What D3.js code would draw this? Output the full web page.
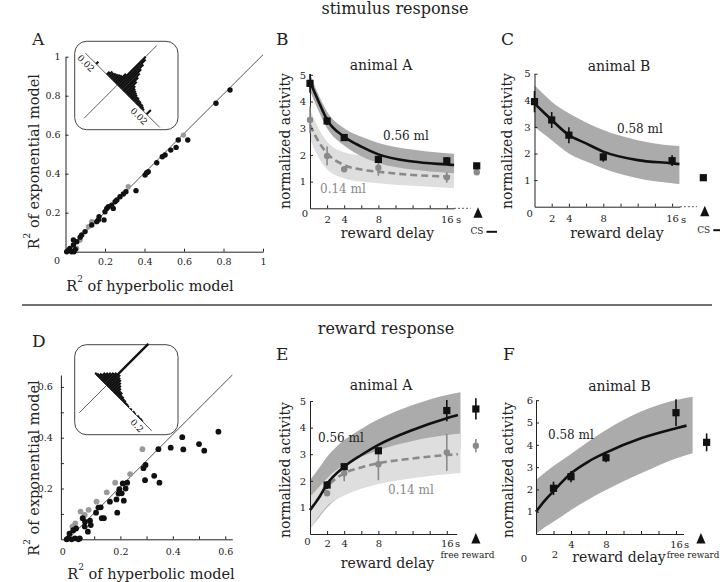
<!DOCTYPE html>
<html><head><meta charset="utf-8">
<script src="https://cdn.jsdelivr.net/npm/d3@7/dist/d3.min.js"></script>
<style>
html,body{margin:0;padding:0;background:#fff;}
svg{display:block;font-family:"DejaVu Serif",serif;}
</style></head>
<body>
<svg id="fig" width="720" height="582"></svg>
<script>
// ===================== DATA =====================
const sectionTitles = ["stimulus response", "reward response"];
const panelLetters = ["A","B","C","D","E","F"];

// ---- Panel A: R^2 hyperbolic (x) vs exponential (y), stimulus responses
const scatterA_black = [[.833,.829],[.762,.761],[.619,.573],[.571,.573],[.56,.535],[.533,.521],[.504,.496],[.49,.487],[.462,.456],[.411,.405],[.403,.393],[.419,.41],[.357,.313],[.306,.308],[.293,.296],[.276,.282],[.26,.265],[.251,.256],[.234,.239],[.217,.231],[.209,.222],[.242,.222],[.2,.205],[.195,.163],[.166,.163],[.158,.154],[.17,.18],[.133,.137],[.099,.103],[.082,.086],[.074,.074],[.057,.051],[.04,.034],[.022,.017],[.006,0],[.031,0],[.043,0],[.04,.06],[.015,.008],[.05,.012]];
const scatterA_gray = [[.597,.598],[.318,.333],[.133,.154],[.116,.128],[.056,.017],[.074,.06]];
const ticksA = [0.2,0.4,0.6,0.8,1];
// inset histogram A (difference along anti-diagonal)
const histA_bins = [-0.016,-0.008,-0.007,-0.006,-0.005,-0.004,-0.003,-0.002,-0.001,0,0.001,0.002,0.003,0.004,0.005,0.006,0.007,0.008,0.009,0.010,0.011,0.012,0.013,0.014,0.015,0.016,0.017,0.018,0.019,0.022];
const histA_counts = [3,4,6,6,7,8,9,10,14,40,38,33,28,24,20,16,12,10,9,8,7,6,6,5,5,4,4,3,2,6];
const histA_ticks = [-0.02, 0.02];

// ---- Panel D: reward responses
const scatterD_black = [[.574,.424],[.52,.349],[.5,.375],[.44,.354],[.436,.402],[.392,.361],[.345,.355],[.349,.223],[.329,.25],[.296,.293],[.288,.28],[.294,.233],[.226,.223],[.22,.2],[.209,.22],[.205,.181],[.196,.197],[.185,.157],[.213,.152],[.193,.18],[.188,.105],[.16,.148],[.125,.126],[.116,.125],[.137,.083],[.129,.083],[.107,.105],[.084,.073],[.087,.056],[.065,.069],[.056,.083],[.031,.043],[.02,.036],[.006,.022],[.001,.004],[.014,0],[.027,.004],[.04,0],[.045,.004],[-.005,0],[.076,.03],[.064,.05]];
const scatterD_gray = [[.284,.355],[.237,.257],[.18,.223],[.148,.185],[.109,.148],[.048,.109],[.079,.116],[.064,.096],[.058,.083],[.017,.05],[.006,.022],[.028,.063]];
const ticksD = [0.1,0.2,0.3,0.4,0.5,0.6];
const ticksD_labeled = [0.2,0.4,0.6];
const histD_bins = [-0.064,-0.056,-0.048,-0.04,-0.032,-0.024,-0.016,-0.008,0,0.008,0.016,0.024,0.032,0.04,0.048,0.056,0.064,0.072,0.08,0.088,0.096,0.104,0.112,0.12,0.136,0.152,0.16,0.176,0.184,0.192,0.2];
const histD_counts = [2,3,5,8,10,12,14,16,59,17,15,14,12,10,8,6,6,4,4,3,3,2,2,1.5,1.5,1.5,1,1.5,1,1.5,1];
const histD_ticks = [0.2];

// ---- Delay panels
const delayTicks = [2,4,6,8,10,12,14,16];
const delayTickLabels = [2,4,8,16];
const delaysBC = [0,2,4,8,16];
const delaysEF = [2,4,8,16];
const gridBC = [0,1,2,4,6,8,12,16,16.85];
const gridEF = [0,1,2,4,6,8,12,16,17.6];

// B: stimulus response, animal A
const B_large = [4.68,3.27,2.65,1.83,1.78];
const B_large_err = [0.35,0.15,0.12,0.05,0.12];
const B_small = [3.31,1.96,1.46,1.52,1.16];
const B_small_err = [0.5,0.35,0.1,0.3,0.2];
const B_cs = [1.59,1.35];
const B_cs_err = [0,0.1];
const B_fitLarge = [4.74,4.0,3.31,2.68,2.31,2.02,1.75,1.64,1.62];
const B_bandLargeHi = [5.05,4.25,3.62,3.0,2.68,2.45,2.2,2.06,2.04];
const B_bandLargeLo = [4.4,3.65,3.0,2.35,1.95,1.7,1.45,1.33,1.31];
const B_fitSmall = [3.12,2.5,2.06,1.62,1.45,1.37,1.25,1.19,1.18];
const B_bandSmallHi = [3.7,3.0,2.5,2.1,1.98,1.92,1.86,1.82,1.81];
const B_bandSmallLo = [2.6,1.9,1.45,1.12,1.0,0.94,0.84,0.77,0.75];

// C: stimulus response, animal B
const C_large = [3.95,3.26,2.69,1.87,1.73];
const C_large_err = [0.4,0.3,0.3,0.18,0.2];
const C_cs = [1.09];
const C_cs_err = [0];
const C_fit = [3.88,3.57,3.26,2.69,2.38,2.07,1.75,1.63,1.6];
const C_bandHi = [4.57,4.25,3.95,3.51,3.17,2.88,2.5,2.3,2.28];
const C_bandLo = [3.0,2.75,2.5,2.0,1.7,1.44,1.07,0.88,0.85];

// E: reward response, animal A
const E_large = [1.84,2.53,3.13,4.64];
const E_large_err = [0.15,0.12,0.1,0.4];
const E_small = [1.53,2.28,2.62,3.07];
const E_small_err = [0.1,0.3,0.6,0.7];
const E_free = [4.7,3.32];
const E_free_err = [0.4,0.25];
const E_fitLarge = [0.9,1.34,1.88,2.53,2.97,3.35,3.91,4.35,4.47];
const E_bandLargeHi = [2.03,2.45,2.9,3.53,3.95,4.31,4.85,5.23,5.33];
const E_bandLargeLo = [0.2,0.6,1.0,1.5,1.9,2.2,2.7,3.1,3.2];
const E_fitSmall = [0.9,1.35,1.78,2.28,2.5,2.66,2.84,2.97,3.0];
const E_bandSmallHi = [1.4,1.75,2.1,2.6,2.9,3.15,3.5,3.72,3.78];
const E_bandSmallLo = [0.2,0.65,1.05,1.45,1.7,1.88,2.1,2.25,2.28];

// F: reward response, animal B
const F_large = [2.05,2.57,3.42,5.44];
const F_large_err = [0.3,0.25,0.2,0.6];
const F_free = [4.11];
const F_free_err = [0.4];
const F_fit = [1.0,1.5,1.92,2.72,3.25,3.65,4.29,4.74,4.86];
const F_bandHi = [2.42,2.75,3.05,3.59,4.15,4.66,5.49,6.01,6.16];
const F_bandLo = [0.0,0.3,0.55,1.08,1.55,1.97,2.72,3.39,3.62];

// ===================== DRAWING =====================
const svg = d3.select("#fig");
const BLACK = "#111", GRAY = "#8a8a8a", DARKBAND = "#ababab", LIGHTBAND = "#dedede";

// section titles / separator
svg.append("text").attr("x",395).attr("y",14).attr("text-anchor","middle").attr("font-size",16).attr("fill","#222").text(sectionTitles[0]);
svg.append("text").attr("x",386).attr("y",334).attr("text-anchor","middle").attr("font-size",16).attr("fill","#222").text(sectionTitles[1]);
svg.append("line").attr("x1",22).attr("x2",712).attr("y1",305).attr("y2",305).attr("stroke","#444").attr("stroke-width",1.5);

// panel letters
const letterPos = [[32,45],[276,45],[501,45],[32,347],[276,360],[503,360]];
panelLetters.forEach((l,i)=>svg.append("text").attr("x",letterPos[i][0]).attr("y",letterPos[i][1]).attr("font-size",17).attr("fill","#222").text(l));

function styleAxis(sel, fs){
  sel.attr("font-family",'"DejaVu Serif",serif').attr("font-size",fs);
  sel.select(".domain").attr("stroke","#222").attr("stroke-width",1);
  sel.selectAll(".tick line").attr("stroke","#222");
  sel.selectAll(".tick text").attr("fill","#222");
}

function r2Label(x, y, rot, rest, fs){
  const t = svg.append("text").attr("transform",`translate(${x},${y}) rotate(${rot})`).attr("text-anchor","middle").attr("font-size",fs).attr("fill","#222");
  t.append("tspan").text("R");
  t.append("tspan").attr("dy",-9).attr("font-size",9).text("2");
  t.append("tspan").attr("dy",9).text(" " + rest);
}

// ---------- scatter panels ----------
function scatterPanel(p){
  const g = svg.append("g");
  const x = d3.scaleLinear().domain(p.xDom).range(p.xRange);
  const y = d3.scaleLinear().domain(p.yDom).range(p.yRange);
  g.append("line").attr("x1",x(0)).attr("y1",y(0)).attr("x2",x(p.diagEnd[0])).attr("y2",y(p.diagEnd[1]))
    .attr("stroke","#555").attr("stroke-width",1);
  const fmt = d=>d===1?"1":d3.format(".1f")(d);
  const xa = g.append("g").attr("transform",`translate(0,${p.yRange[0]})`)
    .call(d3.axisBottom(x).tickValues(p.ticksX).tickSize(-3).tickSizeOuter(0).tickPadding(p.padX)
      .tickFormat(d=>p.labX.includes(d)? fmt(d) : ""));
  styleAxis(xa, p.fs);
  const ya = g.append("g").attr("transform",`translate(${p.xRange[0]},0)`)
    .call(d3.axisLeft(y).tickValues(p.ticksY).tickSize(-3).tickSizeOuter(0).tickPadding(p.padY)
      .tickFormat(d=>p.labY.includes(d)? fmt(d) : ""));
  styleAxis(ya, p.fs);
  g.append("text").attr("x",p.zero[0]).attr("y",p.zero[1]).attr("text-anchor","middle").attr("font-size",p.fs).attr("fill","#222").text("0");
  g.selectAll(null).data(p.gray).enter().append("circle")
    .attr("cx",d=>x(d[0])).attr("cy",d=>y(d[1])).attr("r",p.r).attr("fill","#9a9a9a");
  g.selectAll(null).data(p.black).enter().append("circle")
    .attr("cx",d=>x(d[0])).attr("cy",d=>y(d[1])).attr("r",p.r).attr("fill",BLACK);
  // inset
  const ins = p.inset;
  svg.append("rect").attr("x",ins.box[0]).attr("y",ins.box[1]).attr("width",ins.box[2]).attr("height",ins.box[3])
    .attr("rx",12).attr("fill","#fff").attr("stroke","#444").attr("stroke-width",1);
  const h = svg.append("g").attr("transform",`translate(${ins.cx},${ins.cy}) rotate(45)`);
  const u = d3.scaleLinear().domain([0,1]).range([0,ins.pxPerUnit]);
  h.append("line").attr("x1",ins.anti[0]).attr("x2",ins.anti[1]).attr("y1",0).attr("y2",0).attr("stroke","#555").attr("stroke-width",0.9);
  h.append("line").attr("x1",0).attr("x2",0).attr("y1",ins.diag[0]).attr("y2",ins.diag[1]).attr("stroke","#555").attr("stroke-width",0.9);
  const bw = u(ins.binW);
  h.selectAll(null).data(ins.bins.map((b,i)=>[b,ins.counts[i]])).enter().append("rect")
    .attr("x",d=>u(d[0])-bw/2).attr("y",d=>-d[1]).attr("width",bw+0.3).attr("height",d=>d[1]).attr("fill",BLACK);
  h.selectAll(null).data(ins.ticks).enter().append("text")
    .attr("x",d=>u(d)).attr("y",10).attr("text-anchor","middle").attr("font-size",9).attr("fill","#222")
    .text(d=>ins.fmt(Math.abs(d)));
  r2Label(p.ylab[0], p.ylab[1], -90, "of exponential model", 14.5);
  r2Label(p.xlab[0], p.xlab[1], 0, "of hyperbolic model", 14.5);
}

scatterPanel({
  xDom:[0,1], xRange:[65.5,263], yDom:[0,1], yRange:[251.7,56.7], diagEnd:[1.0,1.01],
  ticksX:ticksA, labX:ticksA, ticksY:ticksA, labY:ticksA, padX:7, padY:5, fs:9.5, r:2.7,
  zero:[57,264], black:scatterA_black, gray:scatterA_gray,
  ylab:[38.5,161.7], xlab:[150,291],
  inset:{box:[74.7,41.3,103.3,88.4], cx:117.3, cy:85, pxPerUnit:1875, binW:0.001,
    anti:[-45,60], diag:[47,-56], bins:histA_bins, counts:histA_counts, ticks:histA_ticks, fmt:d3.format(".2f")}
});

scatterPanel({
  xDom:[-0.027,0.627], xRange:[60.9,232.3], yDom:[0,0.647], yRange:[539.3,375], diagEnd:[0.627,0.647],
  ticksX:ticksD, labX:ticksD_labeled, ticksY:ticksD, labY:ticksD_labeled, padX:9, padY:8, fs:9.5, r:2.9,
  zero:[62.7,555], black:scatterD_black, gray:scatterD_gray,
  ylab:[38.5,468], xlab:[151,579],
  inset:{box:[74.7,344.7,103.3,90], cx:106.5, cy:385.5, pxPerUnit:250, binW:0.008,
    anti:[-16,64], diag:[38.5,-59], bins:histD_bins, counts:histD_counts, ticks:histD_ticks, fmt:d3.format(".1f")}
});

// ---------- delay panels ----------
function delayPanel(p){
  const g = svg.append("g");
  const x = d3.scaleLinear().domain([0,p.axisEnd]).range([p.x0, p.x0 + p.pxS*p.axisEnd]);
  const y = d3.scaleLinear().domain([0,p.yMax]).range([p.y0, p.y0 - p.pxU*p.yMax]);
  const area = d3.area().x(d=>x(d[0])).y0(d=>y(d[1])).y1(d=>y(d[2])).curve(d3.curveMonotoneX);
  const line = d3.line().x(d=>x(d[0])).y(d=>y(d[1])).curve(d3.curveMonotoneX);
  p.bands.forEach(b=>g.append("path").datum(b.grid.map((t,i)=>[t,b.lo[i],b.hi[i]])).attr("d",area).attr("fill",b.color));
  p.curves.forEach(c=>g.append("path").datum(c.grid.map((t,i)=>[t,c.v[i]])).attr("d",line)
    .attr("fill","none").attr("stroke",c.color).attr("stroke-width",2.6).attr("stroke-dasharray",c.dash||null));
  // axes
  const xa = g.append("g").attr("transform",`translate(0,${p.y0})`)
    .call(d3.axisBottom(x).tickValues(p.xTicks).tickSize(-3).tickSizeOuter(0).tickPadding(p.padX)
      .tickFormat(d=>p.xLabels.includes(d)? d : ""));
  styleAxis(xa, 10);
  const yTicks = d3.range(1, p.yMax+1);
  const ya = g.append("g").attr("transform",`translate(${p.x0},0)`)
    .call(d3.axisLeft(y).tickValues(yTicks).tickSize(-3).tickSizeOuter(0).tickPadding(p.padY).tickFormat(d3.format("d")));
  styleAxis(ya, 10);
  if (p.dashEnd) g.append("line").attr("x1",x(p.axisEnd)).attr("x2",x(p.dashEnd)).attr("y1",p.y0).attr("y2",p.y0)
    .attr("stroke","#444").attr("stroke-width",0.9).attr("stroke-dasharray","2,2");
  p.extraText.forEach(t=>g.append("text").attr("x",t.x).attr("y",t.y).attr("text-anchor",t.anchor||"middle")
    .attr("font-size",t.fs||10).attr("fill",t.color||"#222").text(t.text));
  // series
  p.series.forEach(s=>{
    const pts = s.t.map((t,i)=>({t:t, v:s.v[i], e:s.e[i]}));
    g.selectAll(null).data(pts.filter(d=>d.e>0)).enter().append("line")
      .attr("x1",d=>x(d.t)).attr("x2",d=>x(d.t)).attr("y1",d=>y(d.v-d.e)).attr("y2",d=>y(d.v+d.e))
      .attr("stroke",s.color).attr("stroke-width",1.6);
    if (s.shape==="square"){
      g.selectAll(null).data(pts).enter().append("rect")
        .attr("x",d=>x(d.t)-3.6).attr("y",d=>y(d.v)-3.6).attr("width",7.2).attr("height",7.2).attr("fill",s.color);
    } else {
      g.selectAll(null).data(pts).enter().append("circle")
        .attr("cx",d=>x(d.t)).attr("cy",d=>y(d.v)).attr("r",3.2).attr("fill",s.color);
    }
  });
  // triangle marker
  const tx = x(p.triT);
  g.append("path").attr("d",`M${tx},${p.y0-1}L${tx+4.6},${p.y0+9.5}L${tx-4.6},${p.y0+9.5}Z`).attr("fill",BLACK);
  if (p.cs){
    g.append("text").attr("x",tx-1).attr("y",p.y0+26).attr("text-anchor","middle").attr("font-size",9).attr("fill","#222").text("CS");
    g.append("line").attr("x1",tx+8.5).attr("x2",tx+19).attr("y1",p.y0+23.5).attr("y2",p.y0+23.5).attr("stroke",BLACK).attr("stroke-width",2);
  }
  if (p.free){
    g.append("text").attr("x",p.free[0]).attr("y",p.free[1]).attr("text-anchor","middle").attr("font-size",p.free[2]||9).attr("fill","#222").text("free reward");
  }
  g.append("text").attr("x",p.title[0]).attr("y",p.title[1]).attr("text-anchor","middle").attr("font-size",14).attr("fill","#222").text(p.title[2]);
  g.append("text").attr("transform",`translate(${p.ylab[0]},${p.ylab[1]}) rotate(-90)`).attr("text-anchor","middle").attr("font-size",14).attr("fill","#222").text("normalized activity");
  g.append("text").attr("x",p.xlab[0]).attr("y",p.xlab[1]).attr("text-anchor","middle").attr("font-size",14).attr("fill","#222").text("reward delay");
  p.notes.forEach(n=>g.append("text").attr("x",n.x).attr("y",n.y).attr("font-size",12).attr("fill",n.color).text(n.text));
}

// B
delayPanel({
  x0:310, pxS:8.55, axisEnd:16.85, dashEnd:18.8, y0:208.3, pxU:26.7, yMax:5, padX:7.5, padY:4,
  xTicks:delayTicks, xLabels:delayTickLabels,
  bands:[{grid:gridBC, lo:B_bandSmallLo, hi:B_bandSmallHi, color:LIGHTBAND},{grid:gridBC, lo:B_bandLargeLo, hi:B_bandLargeHi, color:DARKBAND}],
  curves:[{grid:gridBC, v:B_fitSmall, color:GRAY, dash:"7,4"},{grid:gridBC, v:B_fitLarge, color:BLACK}],
  series:[{t:delaysBC, v:B_small, e:B_small_err, color:GRAY, shape:"circle"},{t:[19.5], v:[B_cs[1]], e:[B_cs_err[1]], color:GRAY, shape:"circle"},
          {t:delaysBC, v:B_large, e:B_large_err, color:BLACK, shape:"square"},{t:[19.5], v:[B_cs[0]], e:[B_cs_err[0]], color:BLACK, shape:"square"}],
  triT:19.65, cs:true,
  extraText:[{text:"0", x:305, y:217},{text:"s", x:456, y:223, anchor:"start"}],
  title:[381,70,"animal A"], ylab:[289.5,141], xlab:[387.5,238],
  notes:[{text:"0.56 ml", x:383, y:140, color:"#222"},{text:"0.14 ml", x:320, y:193, color:"#8a8a8a"}]
});

// C
delayPanel({
  x0:534.5, pxS:8.6, axisEnd:16.9, dashEnd:18.9, y0:206.7, pxU:26.6, yMax:5, padX:8.5, padY:4,
  xTicks:delayTicks, xLabels:delayTickLabels,
  bands:[{grid:gridBC, lo:C_bandLo, hi:C_bandHi, color:DARKBAND}],
  curves:[{grid:gridBC, v:C_fit, color:BLACK}],
  series:[{t:delaysBC, v:C_large, e:C_large_err, color:BLACK, shape:"square"},{t:[19.63], v:C_cs, e:C_cs_err, color:BLACK, shape:"square"}],
  triT:19.8, cs:true,
  extraText:[{text:"0", x:529.7, y:217},{text:"s", x:681, y:223, anchor:"start"}],
  title:[619,71,"animal B"], ylab:[512,141], xlab:[617,238],
  notes:[{text:"0.58 ml", x:617, y:133, color:"#222"}]
});

// E
delayPanel({
  x0:310, pxS:8.55, axisEnd:17.15, dashEnd:null, y0:534, pxU:26.6, yMax:5, padX:6, padY:4,
  xTicks:delayTicks, xLabels:delayTickLabels,
  bands:[{grid:gridEF, lo:E_bandLargeLo, hi:E_bandLargeHi, color:DARKBAND},{grid:gridEF, lo:E_bandSmallLo, hi:E_bandSmallHi, color:LIGHTBAND}],
  curves:[{grid:gridEF.slice(0,8).concat([17.3]), v:E_fitSmall, color:GRAY, dash:"7,4"},{grid:gridEF.slice(0,8).concat([17.3]), v:E_fitLarge, color:BLACK}],
  series:[{t:delaysEF, v:E_small, e:E_small_err, color:GRAY, shape:"circle"},{t:[19.4], v:[E_free[1]], e:[E_free_err[1]], color:GRAY, shape:"circle"},
          {t:delaysEF, v:E_large, e:E_large_err, color:BLACK, shape:"square"},{t:[19.4], v:[E_free[0]], e:[E_free_err[0]], color:BLACK, shape:"square"}],
  triT:19.4, cs:false, free:[467.5,558],
  extraText:[{text:"0", x:307.5, y:545},{text:"s", x:455, y:547, anchor:"start"}],
  title:[381,390,"animal A"], ylab:[289.5,470], xlab:[387.5,568],
  notes:[{text:"0.56 ml", x:318, y:441.5, color:"#222"},{text:"0.14 ml", x:388, y:494, color:"#8a8a8a"}]
});

// F
delayPanel({
  x0:536, pxS:8.75, axisEnd:16.85, dashEnd:null, y0:534, pxU:22.3, yMax:6, padX:7, padY:3,
  xTicks:delayTicks, xLabels:[4,8,16],
  bands:[{grid:gridEF.slice(0,8).concat([17.9]), lo:F_bandLo, hi:F_bandHi, color:DARKBAND}],
  curves:[{grid:gridEF.slice(0,8).concat([17.2]), v:F_fit, color:BLACK}],
  series:[{t:delaysEF, v:F_large, e:F_large_err, color:BLACK, shape:"square"},{t:[19.5], v:F_free, e:F_free_err, color:BLACK, shape:"square"}],
  triT:18.85, cs:false, free:[693,558,8.8],
  extraText:[{text:"0", x:524, y:562},{text:"2", x:555, y:558},{text:"s", x:684, y:548, anchor:"start"}],
  title:[619.5,391,"animal B"], ylab:[512.5,470], xlab:[619,562],
  notes:[{text:"0.58 ml", x:548, y:439, color:"#222"}]
});
</script>
</body></html>
